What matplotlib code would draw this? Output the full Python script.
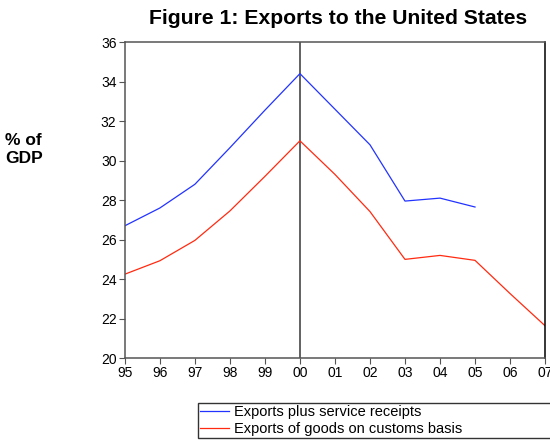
import matplotlib
matplotlib.use('Agg')
import matplotlib.pyplot as plt

plt.rcParams['font.family'] = ['Liberation Sans', 'DejaVu Sans']

# -- data
years = [1995, 1996, 1997, 1998, 1999, 2000, 2001, 2002, 2003, 2004, 2005, 2006, 2007]
year_labels = ['95', '96', '97', '98', '99', '00', '01', '02', '03', '04', '05', '06', '07']
exports_plus_services = [26.7, 27.6, 28.8, 30.65, 32.55, 34.4, 32.6, 30.8, 27.95, 28.1, 27.65]
exports_goods_customs = [24.25, 24.93, 25.96, 27.45, 29.2, 31.0, 29.3, 27.42, 25.0, 25.2, 24.95, 23.27, 21.64]

fig = plt.figure(figsize=(5.5, 4.4), dpi=100)
ax = fig.add_axes([0.227, 0.186, 0.764, 0.7185])

ax.plot(years[:len(exports_plus_services)], exports_plus_services, color='#2233ff', lw=0.9,
        label='Exports plus service receipts')
ax.plot(years, exports_goods_customs, color='#ff2a10', lw=0.9,
        label='Exports of goods on customs basis')
ax.axvline(2000, color='#555555', lw=1.3, zorder=0)

ax.set_xlim(1995, 2007)
ax.set_ylim(20, 36)
ax.set_xticks(years)
ax.set_xticklabels(year_labels)
ax.set_yticks(range(20, 37, 2))
ax.tick_params(labelsize=10, length=4, color='#555555', pad=2)
for s in ax.spines.values():
    s.set_color('#555555')
    s.set_linewidth(1.1)
ax.spines['right'].set_color('black')

fig.text(0.615, 0.958, 'Figure 1: Exports to the United States', ha='center', va='center',
         fontsize=15.2, fontweight='bold')
fig.text(0.009, 0.66, '% of\nGDP', ha='left', va='center', fontsize=12.5, fontweight='bold',
         linespacing=1.3)

# legend box runs off the right edge like in the original
fig.legend(loc='upper left', bbox_to_anchor=(0.36, 0.0, 0.7, 0.085), mode='expand',
           fontsize=10.5, frameon=True, fancybox=False, edgecolor='black',
           borderpad=0.15, labelspacing=0.2, handlelength=2.0, handletextpad=0.3,
           borderaxespad=0)

fig.savefig('out.png', dpi=100)
